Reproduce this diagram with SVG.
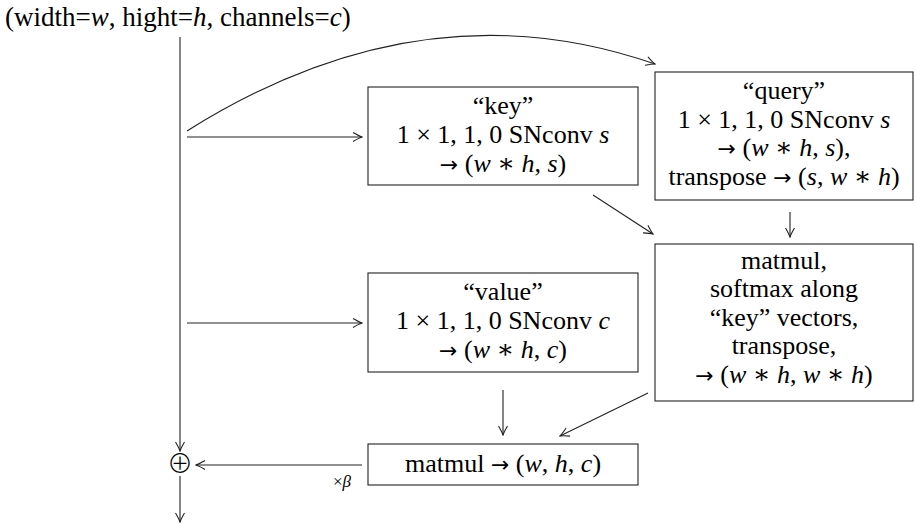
<svg xmlns="http://www.w3.org/2000/svg" width="915" height="525" viewBox="0 0 915 525">
<defs>
<style>
.t { font-family: "Liberation Serif", "DejaVu Serif", serif; font-size: 26px; fill: #000; text-anchor: middle; }
.i { font-style: italic; }
.a { font-family: "DejaVu Sans", sans-serif; font-size: 22px; }
.box { fill: #fff; stroke: #222; stroke-width: 1.1; }
.ln { fill: none; stroke: #222; stroke-width: 1.1; marker-end: url(#arr); }
</style>
<marker id="arr" viewBox="-11 -6 12 12" refX="0" refY="0" markerWidth="12" markerHeight="12" markerUnits="userSpaceOnUse" orient="auto">
<path d="M-9,-4.5 Q-3,-1 0,0 Q-3,1 -9,4.5" fill="none" stroke="#222" stroke-width="1.1"/>
</marker>
</defs>
<rect width="915" height="525" fill="#fff"/>
<text id="title" class="t" x="5" y="26" style="text-anchor:start;font-size:27px">(width=<tspan class="i">w</tspan>, hight=<tspan class="i">h</tspan>, channels=<tspan class="i">c</tspan>)</text>
<g id="connectors">
<path class="ln" d="M180,37 L180,451"/>
<path class="ln" d="M180,476 L180,522"/>
<path class="ln" d="M187,137 L362,137"/>
<path class="ln" d="M187,323 L362,323"/>
<path class="ln" d="M187,131 Q422,-17 655,64"/>
<path class="ln" d="M593,195 L653,234"/>
<path class="ln" d="M790,212 L790,237"/>
<path class="ln" d="M648,393 L560,436"/>
<path class="ln" d="M503,390 L503,435"/>
<path class="ln" d="M362,465 L196,465"/>
<text class="t" x="342" y="487" style="font-size:17px">×<tspan class="i">β</tspan></text>
</g>
<g id="plus">
<text class="t" x="180" y="473" style="font-family:'Noto Sans CJK JP','DejaVu Sans',sans-serif;font-size:26px;font-weight:300">⊕</text>
</g>
<g id="key">
<rect class="box" x="368" y="87" width="270" height="98"/>
<text class="t" x="503" y="114">“key”</text>
<text class="t" x="503" y="143">1 × 1, 1, 0 SNconv <tspan class="i">s</tspan></text>
<text class="t" x="503" y="172"><tspan class="a">→</tspan> (<tspan class="i">w</tspan> ∗ <tspan class="i">h</tspan>, <tspan class="i">s</tspan>)</text>
</g>
<g id="query">
<rect class="box" x="655" y="72" width="258" height="128"/>
<text class="t" x="784" y="99">“query”</text>
<text class="t" x="784" y="128">1 × 1, 1, 0 SNconv <tspan class="i">s</tspan></text>
<text class="t" x="784" y="156"><tspan class="a">→</tspan> (<tspan class="i">w</tspan> ∗ <tspan class="i">h</tspan>, <tspan class="i">s</tspan>),</text>
<text class="t" x="784" y="185">transpose <tspan class="a">→</tspan> (<tspan class="i">s</tspan>, <tspan class="i">w</tspan> ∗ <tspan class="i">h</tspan>)</text>
</g>
<g id="value">
<rect class="box" x="368" y="273" width="270" height="99"/>
<text class="t" x="503" y="300">“value”</text>
<text class="t" x="503" y="329">1 × 1, 1, 0 SNconv <tspan class="i">c</tspan></text>
<text class="t" x="503" y="358"><tspan class="a">→</tspan> (<tspan class="i">w</tspan> ∗ <tspan class="i">h</tspan>, <tspan class="i">c</tspan>)</text>
</g>
<g id="attention">
<rect class="box" x="655" y="244" width="258" height="157"/>
<text class="t" x="784" y="269">matmul,</text>
<text class="t" x="784" y="297">softmax along</text>
<text class="t" x="784" y="326">“key” vectors,</text>
<text class="t" x="784" y="354">transpose,</text>
<text class="t" x="784" y="383"><tspan class="a">→</tspan> (<tspan class="i">w</tspan> ∗ <tspan class="i">h</tspan>, <tspan class="i">w</tspan> ∗ <tspan class="i">h</tspan>)</text>
</g>
<g id="output">
<rect class="box" x="368" y="444" width="270" height="41"/>
<text class="t" x="503" y="472">matmul <tspan class="a">→</tspan> (<tspan class="i">w</tspan>, <tspan class="i">h</tspan>, <tspan class="i">c</tspan>)</text>
</g>
</svg>
